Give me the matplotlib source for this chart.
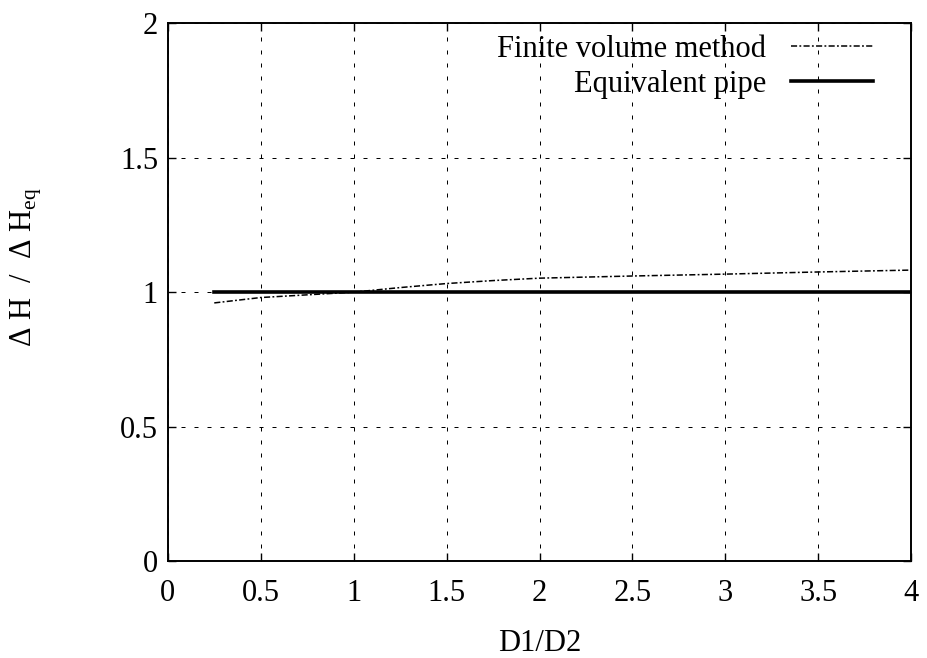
import numpy as np
import matplotlib
matplotlib.use('Agg')
import matplotlib.pyplot as plt

# ratio of diameters and normalised head loss
d_ratio = [0.25, 0.375, 0.5, 0.75, 1.0, 1.25, 1.5, 1.75, 2.0, 2.5, 3.0, 3.5, 4.0]
fvm_dh = [0.960, 0.970, 0.980, 0.990, 1.000, 1.017, 1.032, 1.043, 1.052, 1.060, 1.067, 1.075, 1.082]
eq_x = [0.25, 4.0]
eq_dh = [1.0, 1.0]

plt.rcParams['font.family'] = ['Liberation Serif', 'DejaVu Serif']
plt.rcParams['mathtext.fontset'] = 'custom'
plt.rcParams['mathtext.rm'] = 'Liberation Serif'

FS = 22

fig = plt.figure(figsize=(9.27, 6.58), dpi=100)
ax = fig.add_axes([0.181, 0.147, 0.802, 0.818])

ax.plot(d_ratio, fvm_dh, color='black', linewidth=1.1,
        dashes=(4, 1.5, 1.2, 1.5), label='Finite volume method')
ax.plot(eq_x, eq_dh, color='black', linewidth=2.6, label='Equivalent pipe')

ax.set_xlim(0, 4)
ax.set_ylim(0, 2)
ax.set_xticks(np.arange(0, 4.01, 0.5))
ax.set_xticklabels(['0', '0.5', '1', '1.5', '2', '2.5', '3', '3.5', '4'])
ax.set_yticks([0, 0.5, 1, 1.5, 2])
ax.set_yticklabels(['0', '0.5', '1', '1.5', '2'])
ax.tick_params(direction='in', top=True, right=True, length=6, width=1,
               labelsize=FS)
ax.tick_params(axis='x', pad=13)
ax.tick_params(axis='y', pad=7)
ax.grid(True, color='black', linestyle=(0, (4, 9)), linewidth=0.72)
for s in ax.spines.values():
    s.set_linewidth(1.4)

ax.set_xlabel('D1/D2', fontsize=FS)
ax.set_ylabel(r'$\Delta$ H  /  $\Delta$ H$_{\mathrm{eq}}$', fontsize=FS)
ax.xaxis.set_label_coords(0.5, -0.125)
ax.yaxis.set_label_coords(-0.167, 0.546)

leg = ax.legend(loc='upper right', bbox_to_anchor=(0.957, 0.989),
                frameon=False, markerfirst=False,
                fontsize=FS, handlelength=2.7, handletextpad=0.8,
                labelspacing=0.2, borderaxespad=0.1, borderpad=0.1)

fig.savefig('out.png', dpi=100)
